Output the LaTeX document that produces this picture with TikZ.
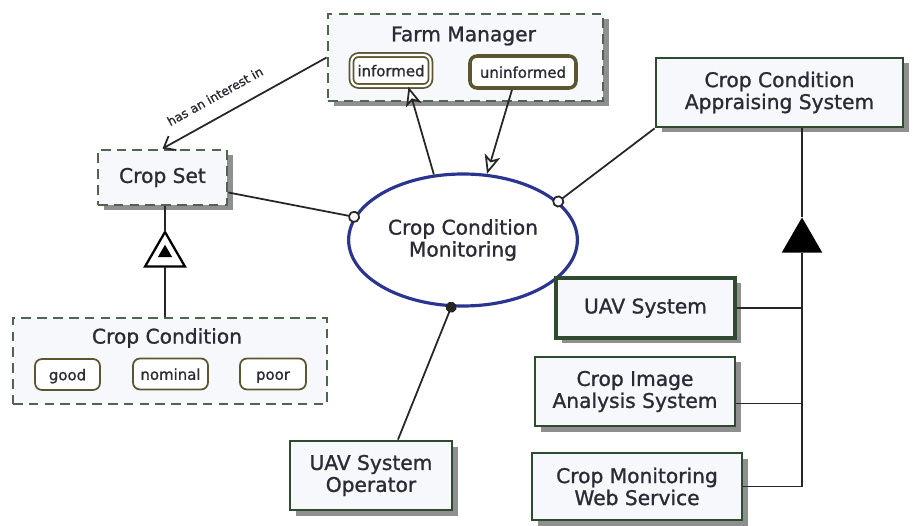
\documentclass[tikz,border=0pt]{standalone}
\usepackage{fontspec}
\setmainfont{DejaVu Sans}[FakeBold=1.1]
\usetikzlibrary{arrows.meta,shapes.geometric,shadows}
\definecolor{objline}{HTML}{2F4A2F}
\definecolor{stline}{HTML}{5C5630}
\definecolor{procline}{HTML}{2A3592}
\definecolor{txt}{HTML}{2B2B35}
\definecolor{boxfill}{HTML}{F6F8FC}

\begin{document}
\begin{tikzpicture}[line join=miter,
        objbase/.style={draw=objline,line width=1.6pt,fill=boxfill,align=center,text=txt,
            font=\fontsize{11.5}{12.5}\selectfont,inner sep=0pt},
        obj/.style={objbase,drop shadow={shadow xshift=0.11cm,shadow yshift=-0.11cm,
            fill=black!55,opacity=0.8}},
        envobj/.style={dash pattern=on 5.5pt off 3.5pt,draw=objline!85},
        state/.style={draw=stline,rounded corners=4pt,line width=1pt,fill=white,text=txt,
            font=\fontsize{8.5}{9}\selectfont,inner sep=0pt,minimum height=0.62cm,
            text height=1.6ex,text depth=0.4ex},
        title/.style={text=txt,font=\fontsize{11.5}{12.5}\selectfont,inner sep=0pt},
        link/.style={draw=black!85,line width=1pt},
        effect/.style={link,-{Stealth[fill=white,length=3.8mm,width=3.2mm,inset=1mm]}},
        tri/.style={regular polygon,regular polygon sides=3,inner sep=0pt,outer sep=0pt}]
    \fill[white] (0,0) rectangle (18.32,10.5);
    \useasboundingbox (0,0) rectangle (18.32,10.5);

    \node[obj,envobj,minimum width=5.5cm,minimum height=1.74cm]         at (9.31,9.35)  (fm)    {};
    \node[title]                                                        at (9.27,9.78)  (fmname) {Farm Manager};
    \node[state,double,double distance=1.2pt,minimum width=1.58cm]      at (7.82,9.09)  (inf)   {informed};
    \node[state,line width=2pt,minimum width=2.12cm,minimum height=0.64cm] at (10.46,9.06) (uninf) {uninformed};

    \node[obj,envobj,minimum width=2.58cm,minimum height=1.1cm]         at (3.25,6.95)  (cs)    {Crop Set};

    \node[objbase,envobj,minimum width=6.28cm,minimum height=1.72cm]    at (3.4,3.28)   (cc)    {};
    \node[title]                                                        at (3.34,3.74)  (ccname) {Crop Condition};
    \node[state,minimum width=1.3cm]                                    at (1.35,3.01)  (good)  {good};
    \node[state,minimum width=1.5cm]                                    at (3.41,3.02)  (nom)   {nominal};
    \node[state,minimum width=1.32cm]                                   at (5.46,3.02)  (poor)  {poor};

    \node[ellipse,draw=procline,line width=1.8pt,fill=white,text=txt,align=center,
          font=\fontsize{11.5}{12.5}\selectfont,minimum width=4.4cm,minimum height=2.64cm]
                                                                        at (9.26,5.7)   (ccm)   {Crop Condition\\Monitoring};

    \node[obj,minimum width=4.94cm,minimum height=1.38cm]               at (15.59,8.65) (cas)   {Crop Condition\\Appraising System};
    \node[obj,minimum width=3.58cm,minimum height=1.2cm,line width=2.2pt] at (12.91,4.34) (uav) {UAV System};
    \node[obj,minimum width=4.0cm,minimum height=1.38cm]                at (12.7,2.67)  (cias)  {Crop Image\\Analysis System};
    \node[obj,minimum width=4.2cm,minimum height=1.34cm]                at (12.74,0.77) (cmws)  {Crop Monitoring\\Web Service};
    \node[obj,minimum width=3.24cm,minimum height=1.38cm]               at (7.42,0.99)  (op)    {UAV System\\Operator};

    \node[tri,draw=black,line width=1.3pt,fill=white,minimum size=0.92cm] at (3.3,5.40) (exh)   {};
    \node[tri,fill=black,minimum size=0.33cm]                           at (3.3,5.44)   (exhin) {};
    \node[tri,fill=black,minimum size=0.94cm]                           at (16.04,5.68) (gen)   {};

    \draw[link,-{Straight Barb[length=2mm,width=3.2mm]}] (fm.west) -- (cs.north)
        node[pos=0.62,sloped,above=5pt,text=txt,font=\fontsize{7}{8}\selectfont] {has an interest in};
    \draw[effect] (ccm.114) -- ([xshift=0.35cm]inf.south);
    \draw[effect] ([xshift=-0.22cm]uninf.south) -- (ccm.70);
    \draw[link,shorten >=-1.2mm,-{Circle[length=2.4mm,fill=white]}] ([yshift=-0.3cm]cs.east) -- (ccm.168);
    \draw[link,shorten >=-1.2mm,-{Circle[length=2.4mm,fill=white]}] (cas.south west) -- (ccm.22);
    \draw[link,shorten >=-1.1mm,-{Circle[length=2.2mm]}] ([xshift=0.54cm]op.north) -- (ccm.-100);

    \draw[link] (exh.north |- cs.south) -- (exh.north);
    \draw[link] (exh.south) -- (exh.south |- cc.north);
    \draw[link] (gen.north |- cas.south) -- (gen.north);
    \draw[link] (gen.south) -- (gen.south |- cmws.east) -- (cmws.east);
    \draw[link] (uav.east) -- (uav.east -| gen.south);
    \draw[link] ([yshift=-0.24cm]cias.east) -- ([yshift=-0.24cm]cias.east -| gen.south);
\end{tikzpicture}
\end{document}
